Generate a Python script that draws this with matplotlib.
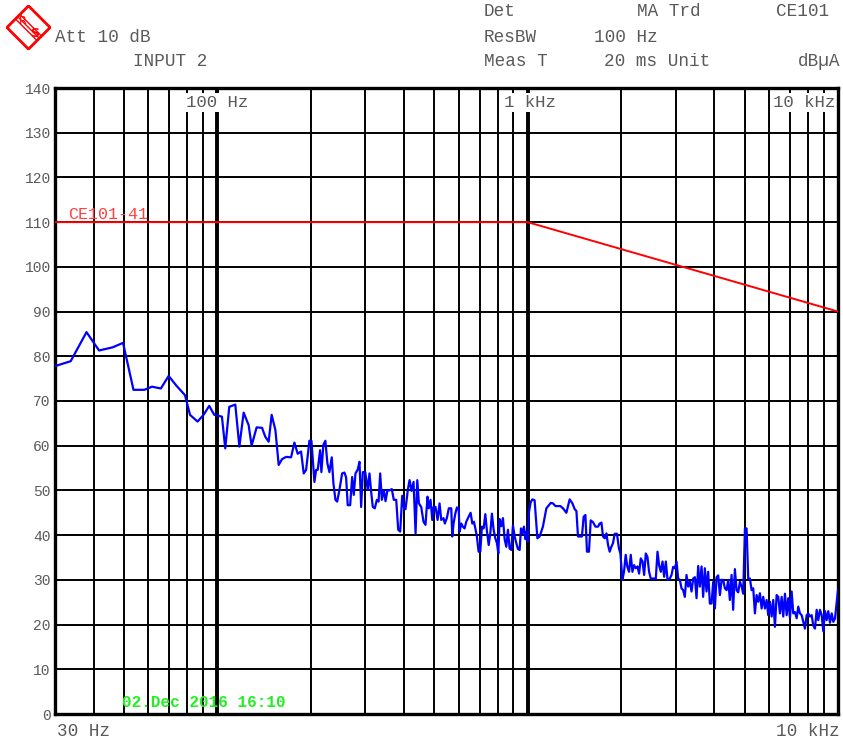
import numpy as np
import matplotlib
matplotlib.use("Agg")
import matplotlib.pyplot as plt
from matplotlib.ticker import NullLocator
from matplotlib.patches import Polygon

plt.rcParams['font.family'] = ['Liberation Mono', 'DejaVu Sans Mono']

# measured trace (CE101, input 2)
freq_hz = [
    30, 33.7, 37.9, 41.6, 46.0, 49.7, 53.7, 58.2, 61.6, 65.8, 69.7, 73.9, 78.7, 81.7,
    86.4, 90.3, 94.2, 97.8, 103.5, 106.1, 109.3, 114.3, 117.8, 121.6, 126.2, 129.0,
    133.9, 139.4, 142.8, 146.4, 149.7, 153.9, 157.7, 161.7, 166.6, 172.9, 177.2, 181.6,
    186.2, 189.9, 193.3, 198.1, 201.1, 205.6, 208.2, 210.7, 214.4, 216.5, 219.7, 223.0,
    226.4, 229.8, 233.8, 236.7, 240.3, 243.4, 247.5, 252.5, 256.9, 260.1, 263.2, 268.0,
    272.0, 275.3, 278.8, 283.6, 287.2, 290.8, 294.4, 299.7, 305.5, 309.3, 313.2, 317.0,
    321.8, 326.7, 330.9, 334.9, 339.0, 344.0, 348.4, 353.6, 358.8, 365.0, 370.5, 377.2,
    382.8, 388.5, 394.3, 400.3, 404.1, 411.1, 416.4, 422.6, 429.0, 435.4, 441.0, 446.3,
    454.0, 461.8, 468.7, 475.7, 480.3, 486.6, 492.8, 497.6, 505.0, 512.6,
    520.2, 526.8, 535.9, 541.0, 549.1, 557.3, 567.4, 571.7, 577.2, 584.6, 591.8, 599.4,
    603.5, 611.2, 618.6, 626.3, 634.3, 645.2, 655.0, 663.3, 671.2, 679.8, 686.2, 695.0,
    703.8, 712.4, 721.3, 730.6, 739.6, 749.1, 758.0, 767.2, 776.9, 786.8, 796.5, 804.6,
    812.3, 822.6, 832.6, 843.0, 853.7, 864.0, 874.9, 886.0, 896.8, 908.0, 919.5, 930.5,
    942.4, 951.6, 961.5, 973.0, 983.3, 990.5, 1002, 1010, 1023, 1036, 1053, 1075,
    1093, 1120, 1149, 1187, 1207, 1229, 1253, 1275, 1300, 1333, 1366, 1394, 1418, 1436,
    1453, 1496, 1515, 1535, 1553, 1576, 1597, 1624, 1654, 1686, 1707, 1729, 1749, 1772,
    1794, 1816, 1838, 1861, 1884, 1907, 1940, 1969, 1990, 2020, 2044, 2070, 2094, 2122,
    2149, 2176, 2202, 2230, 2259, 2286, 2315, 2345, 2373, 2403, 2433, 2462, 2493, 2536,
    2588, 2621, 2652, 2686, 2720, 2753, 2788, 2823, 2872, 2908, 2943, 2981, 3018, 3055,
    3093, 3132, 3170, 3210, 3250, 3290, 3332, 3374, 3415, 3458, 3501, 3544, 3588, 3634,
    3677, 3724, 3770, 3816, 3865, 3914, 3961, 4011, 4062, 4111, 4164, 4217, 4267, 4321,
    4376, 4429, 4483, 4540, 4594, 4653, 4712, 4769, 4830, 4891, 4950, 5013, 5076, 5137,
    5202, 5268, 5332, 5399, 5467, 5533, 5603, 5674, 5742, 5815, 5888, 5959, 6035, 6111,
    6185, 6264, 6343, 6419, 6501, 6583, 6662, 6747, 6832, 6914, 7002, 7090, 7176, 7267,
    7359, 7447, 7541, 7637, 7729, 7826, 7926, 8021, 8123, 8226, 8324, 8430, 8536, 8638,
    8749, 8860, 8966, 9079, 9194, 9304, 9424, 9544, 9658, 9780, 9904, 10000,
]
level_dbua = [
    77.8, 78.9, 85.4, 81.3, 82.0, 83.0, 72.5, 72.5, 73.2, 72.8, 75.6, 73.4, 71.3, 66.9,
    65.4, 66.9, 68.9, 66.9, 66.5, 59.4, 68.7, 69.2, 59.8, 67.4, 64.6, 60.0,
    64.1, 64.0, 62.0, 60.9, 66.9, 63.5, 55.7, 57.0, 57.5, 57.4, 60.7, 58.2,
    58.7, 53.8, 54.6, 61.1, 61.1, 51.9, 54.6, 54.6, 59.0, 54.1, 60.2, 61.1,
    56.0, 54.1, 57.4, 51.6, 47.9, 47.5, 50.1, 53.8, 54.0, 52.9, 46.7, 46.7,
    53.0, 49.0, 53.8, 54.7, 56.4, 46.3, 54.1, 54.1, 50.1, 53.8, 49.7, 46.3,
    46.0, 47.9, 47.5, 53.8, 47.9, 50.1, 47.6, 50.1, 50.0, 50.3, 47.9, 47.9,
    41.2, 40.8, 48.8, 45.8, 45.8, 50.1, 52.3, 49.9, 51.9, 40.4, 52.3, 47.1,
    46.3, 43.0, 42.3, 48.6, 46.0, 47.9, 43.4, 46.3, 46.3, 43.4,
    47.1, 43.4, 43.8, 42.6, 43.8, 46.0, 46.0, 39.7, 42.6, 44.8, 46.2, 46.0,
    40.8, 42.6, 41.9, 41.5, 43.0, 44.1, 45.0, 42.6, 43.0, 41.2, 39.7, 36.3,
    36.3, 41.9, 41.5, 44.7, 40.8, 37.8, 40.4, 44.8, 41.2, 39.3, 38.2, 35.9,
    43.6, 42.0, 43.8, 39.1, 37.4, 41.2, 37.0, 36.7, 42.2, 39.7, 38.2, 36.9,
    36.7, 41.5, 40.4, 41.9, 39.1, 40.8, 38.5, 45.2, 47.4, 48.0, 47.8, 39.3,
    39.7, 41.9, 46.0, 47.2, 47.1, 46.5, 46.5, 46.5, 46.0, 45.0, 48.0, 47.1, 45.8, 45.4,
    39.7, 39.7, 44.1, 44.5, 36.3, 36.3, 43.3, 42.9, 41.9, 41.9, 42.6, 42.8, 39.7, 39.3,
    40.4, 37.8, 36.3, 37.4, 38.2, 40.3, 40.3, 37.0, 35.9, 30.0, 31.8, 35.6, 33.0, 31.8,
    35.6, 31.8, 33.3, 32.6, 33.0, 31.4, 34.8, 34.1, 31.1, 35.9, 35.1, 31.8, 30.3, 30.3,
    30.3, 36.3, 33.3, 31.8, 34.1, 30.7, 34.1, 30.0, 30.3, 31.1, 32.9, 32.6, 34.1, 30.3,
    30.0, 28.1, 27.7, 26.2, 31.1, 28.5, 29.6, 27.4, 30.3, 30.6, 25.9, 33.1, 28.5, 33.0,
    26.2, 32.6, 27.4, 31.8, 24.7, 24.7, 29.5, 23.6, 30.6, 31.0, 26.6, 30.0, 30.0, 28.1,
    27.7, 30.0, 25.5, 31.1, 23.3, 32.4, 27.7, 27.2, 29.6, 28.5, 26.9, 41.5, 41.5, 30.3,
    30.3, 27.7, 28.1, 22.5, 26.6, 25.1, 27.0, 23.6, 26.2, 23.6, 25.5, 22.1, 25.1, 21.8,
    25.5, 19.5, 26.6, 26.2, 22.5, 26.2, 21.8, 26.9, 22.1, 25.9, 21.4, 27.4, 22.5, 22.8,
    21.4, 24.0, 22.5, 22.1, 20.6, 19.1, 22.1, 22.5, 21.8, 22.1, 19.8, 19.1, 23.3, 21.0,
    23.3, 22.1, 18.5, 23.0, 21.0, 23.0, 20.4, 22.5, 20.6, 21.4, 25.1, 27.7,
]

# CE101-4 limit line
limit_freq = [30, 1000, 10000]
limit_level = [110, 110, 90]

y_ticks = [0, 10, 20, 30, 40, 50, 60, 70, 80, 90, 100, 110, 120, 130, 140]
grid_thin = [40, 50, 60, 70, 80, 90, 200, 300, 400, 500, 600, 700, 800, 900,
             2000, 3000, 4000, 5000, 6000, 7000, 8000, 9000]
grid_thick = [100, 1000]

W, H = 843, 741
fig = plt.figure(figsize=(W / 100, H / 100), dpi=100)
ax = fig.add_axes([55 / W, 27 / H, 783 / W, 626 / H])

ax.set_xscale('log')
ax.set_xlim(30, 10000)
ax.set_ylim(0, 140)
ax.xaxis.set_major_locator(NullLocator())
ax.xaxis.set_minor_locator(NullLocator())
ax.set_yticks(y_ticks)
ax.set_yticklabels([str(v) for v in y_ticks], fontsize=10.5, color='#5a5a5a')
ax.tick_params(axis='y', length=0, pad=3)
for sp in ax.spines.values():
    sp.set_linewidth(2.4)
    sp.set_color('black')

for v in y_ticks[1:-1]:
    ax.axhline(v, color='black', lw=1.4, zorder=1)
for f in grid_thin:
    ax.axvline(f, color='black', lw=1.4, zorder=1)
for f in grid_thick:
    ax.axvline(f, color='black', lw=2.8, zorder=1)

ax.plot(limit_freq, limit_level, color='#ff0000', lw=1.4, zorder=3)
ax.text(33, 110.0, 'CE101-41', color='#ff4040', fontsize=12, va='bottom', ha='left', zorder=5)

ax.plot(freq_hz, level_dbua, color='#0000ff', lw=1.6, zorder=4)

box = dict(facecolor='white', edgecolor='none', pad=1.5)
ax.text(100, 138.5, '100 Hz', fontsize=12.5, color='#5a5a5a', ha='center', va='top', bbox=box, zorder=2)
ax.text(1020, 138.5, '1 kHz', fontsize=12.5, color='#5a5a5a', ha='center', va='top', bbox=box, zorder=2)
ax.text(9800, 138.5, '10 kHz', fontsize=12.5, color='#5a5a5a', ha='right', va='top', bbox=box, zorder=2)

ax.text(0.085, 0.018, '02.Dec 2016 16:10', transform=ax.transAxes, color='#22ee22',
        fontsize=11.5, fontweight='bold', ha='left', va='center', zorder=5)

# header texts
def htext(x, y, s, ha='left'):
    fig.text(x / W, 1 - y / H, s, fontsize=12.7, color='#5a5a5a', ha=ha, va='center')

htext(55, 37, 'Att 10 dB')
htext(133, 61, 'INPUT 2')
htext(484, 12, 'Det')
htext(637, 12, 'MA Trd')
htext(776, 12, 'CE101')
htext(484, 37, 'ResBW')
htext(594, 37, '100 Hz')
htext(484, 61, 'Meas T')
htext(604, 61, '20 ms Unit')
htext(840, 61, 'dBµA', ha='right')
htext(57, 731, '30 Hz')
htext(840, 731, '10 kHz', ha='right')

# R&S logo
lax = fig.add_axes([6 / W, 1 - 50 / H, 45 / W, 45 / H])
lax.set_xlim(0, 1)
lax.set_ylim(0, 1)
lax.axis('off')
lax.add_patch(Polygon([[0.5, 0.98], [0.98, 0.5], [0.5, 0.02], [0.02, 0.5]],
                      closed=True, fill=False, edgecolor='#ff0000', lw=2.0))
for off in (-0.05, 0.0, 0.05):
    lax.plot([0.28 + off, 0.72 + off], [0.72 + off, 0.28 + off], color='#ff0000', lw=1.0)
lax.text(0.37, 0.64, 'R', color='#ff0000', fontsize=8, ha='center', va='center', family='DejaVu Sans')
lax.text(0.63, 0.36, 'S', color='#ff0000', fontsize=9, fontweight='bold', ha='center', va='center', family='DejaVu Sans')

fig.savefig('out.png', dpi=100)
